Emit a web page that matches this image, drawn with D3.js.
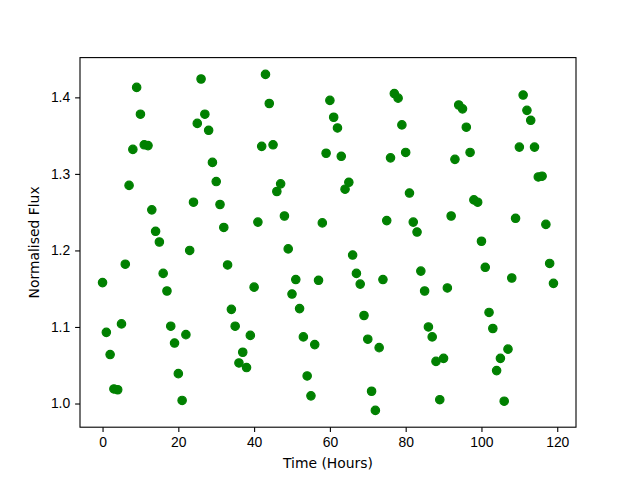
<!DOCTYPE html>
<html lang="en">
<head>
    <meta charset="utf-8">
    <title>Normalised Flux</title>
    <script src="https://cdn.jsdelivr.net/npm/d3@7"></script>
</head>
<style>
    body { margin: 0; background: #fff; }
    svg { font-family: 'DejaVu Sans', sans-serif; }
    .tick text { font-size: 13.9px; fill: #000; }
    .tick line { stroke: #000; stroke-width: 1.1px; }
    .domain { display: none; }
</style>
<body>
<script type="text/javascript">

    // hours 0..119
    var hours = d3.range(0, 120);

    var flux = [
        1.158, 1.093, 1.064, 1.019, 1.018, 1.104, 1.182, 1.285, 1.332, 1.413,
        1.378, 1.338, 1.337, 1.253, 1.225, 1.211, 1.170, 1.147, 1.101, 1.079,
        1.039, 1.004, 1.090, 1.200, 1.263, 1.366, 1.424, 1.378, 1.357, 1.315,
        1.290, 1.260, 1.230, 1.181, 1.123, 1.101, 1.053, 1.067, 1.047, 1.089,
        1.152, 1.237, 1.336, 1.430, 1.392, 1.338, 1.277, 1.287, 1.245, 1.202,
        1.143, 1.162, 1.124, 1.087, 1.036, 1.010, 1.077, 1.161, 1.236, 1.327,
        1.396, 1.374, 1.360, 1.323, 1.280, 1.289, 1.194, 1.170, 1.156, 1.115,
        1.084, 1.016, 0.991, 1.073, 1.162, 1.239, 1.321, 1.405, 1.399, 1.364,
        1.328, 1.275, 1.237, 1.224, 1.173, 1.147, 1.100, 1.087, 1.055, 1.005,
        1.059, 1.151, 1.245, 1.319, 1.390, 1.385, 1.361, 1.328, 1.266, 1.263,
        1.212, 1.178, 1.119, 1.098, 1.043, 1.059, 1.003, 1.071, 1.164, 1.242,
        1.335, 1.403, 1.383, 1.370, 1.335, 1.296, 1.297, 1.234, 1.183, 1.157
    ];

    var xTicks = [0, 20, 40, 60, 80, 100, 120];
    var yTicks = [1.0, 1.1, 1.2, 1.3, 1.4];

    var width = 640, height = 480;
    var margin = {top: 57.6, right: 64, bottom: 52.8, left: 80};

    var svg = d3.select('body').append('svg')
        .attr('width', width)
        .attr('height', height);

    svg.append('rect')
        .attr('width', width)
        .attr('height', height)
        .attr('fill', '#fff');

    // matplotlib style 5% padding
    function padded(ext) {
        var p = (ext[1] - ext[0]) * 0.05;
        return [ext[0] - p, ext[1] + p];
    }

    var xScale = d3.scaleLinear()
        .domain(padded(d3.extent(hours)))
        .range([margin.left, width - margin.right]);
    var yScale = d3.scaleLinear()
        .domain(padded(d3.extent(flux)))
        .range([height - margin.bottom, margin.top]);

    var xAxis = d3.axisBottom(xScale)
        .tickValues(xTicks)
        .tickSize(4.9)
        .tickPadding(4.9)
        .tickFormat(d3.format('d'));
    var yAxis = d3.axisLeft(yScale)
        .tickValues(yTicks)
        .tickSize(4.9)
        .tickPadding(4.9)
        .tickFormat(d3.format('.1f'));

    svg.append('g')
        .attr('transform', 'translate(0,' + (height - margin.bottom) + ')')
        .call(xAxis);
    svg.append('g')
        .attr('transform', 'translate(' + margin.left + ',0)')
        .call(yAxis);

    svg.append('g')
        .selectAll('circle')
        .data(hours)
        .enter()
        .append('circle')
        .attr('cx', function(d) { return xScale(d); })
        .attr('cy', function(d, i) { return yScale(flux[i]); })
        .attr('r', 4.2)
        .attr('fill', '#008000')
        .attr('stroke', '#008000')
        .attr('stroke-width', 1.2);

    svg.append('rect')
        .attr('x', margin.left)
        .attr('y', margin.top)
        .attr('width', width - margin.left - margin.right)
        .attr('height', height - margin.top - margin.bottom)
        .attr('fill', 'none')
        .attr('stroke', '#000')
        .attr('stroke-width', 1.1);

    svg.append('text')
        .attr('x', (margin.left + width - margin.right) / 2)
        .attr('y', 468)
        .attr('text-anchor', 'middle')
        .style('font-size', '13.9px')
        .text('Time (Hours)');

    svg.append('text')
        .attr('transform', 'translate(39,' + ((margin.top + height - margin.bottom) / 2) + ') rotate(-90)')
        .attr('text-anchor', 'middle')
        .style('font-size', '13.9px')
        .text('Normalised Flux');

</script>
</body>
</html>
